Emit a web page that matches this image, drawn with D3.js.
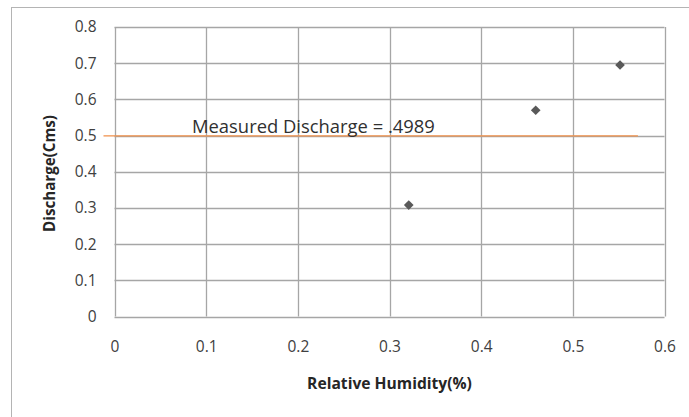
<!DOCTYPE html>
<html>
<head>
<meta charset="utf-8">
<script src="https://cdn.jsdelivr.net/npm/d3@7"></script>
<style>
  html, body { margin: 0; padding: 0; background: #fff; }
  svg { display: block; }
  text { font-family: "Open Sans", "Noto Sans", sans-serif; }
</style>
</head>
<body>
<svg id="chart" width="689" height="417"></svg>
<script>
// Observations: relative humidity vs. discharge
const humidity = [0.321, 0.4595, 0.5515];
const discharge = [0.308, 0.570, 0.695];

// Reference line for the measured discharge
const measuredDischarge = 0.4989;
const measuredSpan = [-0.012, 0.571];
const measuredLabel = "Measured Discharge = .4989";

const xTicks = [0, 0.1, 0.2, 0.3, 0.4, 0.5, 0.6];
const yTicks = [0, 0.1, 0.2, 0.3, 0.4, 0.5, 0.6, 0.7, 0.8];

const xTitle = "Relative Humidity(%)";
const yTitle = "Discharge(Cms)";

const svg = d3.select("#chart");

// chart frame
svg.append("rect")
  .attr("x", 11.5).attr("y", 7.5)
  .attr("width", 700).attr("height", 430)
  .attr("fill", "none").attr("stroke", "#b4b4b4").attr("stroke-width", 1);

const plot = { left: 114.5, right: 664.5, top: 27, bottom: 316.5 };

const x = d3.scaleLinear().domain([0, 0.6]).range([plot.left, plot.right]);
const y = d3.scaleLinear().domain([0, 0.8]).range([plot.bottom, plot.top]);

const gridColor = "#a6a6a6";
const tickFmt = d => d === 0 ? "0" : d3.format(".1f")(d);
const tickSize = "15.5px";

// fit a text element to a given width by scaling its font size
function fitWidth(sel, base, width) {
  sel.style("font-size", base + "px");
  const w = sel.node().getComputedTextLength();
  sel.style("font-size", (base * width / w) + "px");
}

// horizontal gridlines + y labels
const yAxis = d3.axisLeft(y).tickValues(yTicks).tickSize(0).tickPadding(18).tickFormat(tickFmt);
const gy = svg.append("g").attr("transform", `translate(${plot.left},0)`).call(yAxis);
gy.select(".domain").remove();
gy.attr("font-size", null).attr("font-family", null);
gy.selectAll("text").style("font-size", tickSize).attr("fill", "#404040");

svg.append("g").selectAll("line").data(yTicks).join("line")
  .attr("x1", plot.left).attr("x2", plot.right)
  .attr("y1", d => Math.round(y(d)) + 0.5).attr("y2", d => Math.round(y(d)) + 0.5)
  .attr("stroke", gridColor).attr("stroke-width", 1.3);

// vertical gridlines + x labels
svg.append("g").selectAll("line").data(xTicks).join("line")
  .attr("x1", d => Math.round(x(d)) + 0.5).attr("x2", d => Math.round(x(d)) + 0.5)
  .attr("y1", plot.top).attr("y2", plot.bottom)
  .attr("stroke", gridColor).attr("stroke-width", 1.3);

const xAxis = d3.axisBottom(x).tickValues(xTicks).tickSize(0).tickPadding(24).tickFormat(tickFmt);
const gx = svg.append("g").attr("transform", `translate(0,${plot.bottom})`).call(xAxis);
gx.select(".domain").remove();
gx.attr("font-size", null).attr("font-family", null);
gx.selectAll("text").style("font-size", tickSize).attr("fill", "#404040");

// measured discharge line
svg.append("line")
  .attr("x1", x(measuredSpan[0])).attr("x2", x(measuredSpan[1]))
  .attr("y1", y(measuredDischarge)).attr("y2", y(measuredDischarge))
  .attr("stroke", "#f0904a").attr("stroke-width", 1.2);

const label = svg.append("text")
  .attr("x", 192).attr("y", 133)
  .attr("fill", "#303030")
  .text(measuredLabel);
fitWidth(label, 15, 243);

// observation markers
const diamond = d3.symbol().type(d3.symbolDiamond2).size(60);
svg.append("g").selectAll("path").data(humidity.map((h, i) => [h, discharge[i]])).join("path")
  .attr("d", diamond)
  .attr("transform", d => `translate(${x(d[0])},${y(d[1])})`)
  .attr("fill", "#595959");

// axis titles
const xt = svg.append("text")
  .attr("x", 389.5).attr("y", 389)
  .attr("text-anchor", "middle").attr("font-weight", "bold")
  .attr("fill", "#262626").text(xTitle);
fitWidth(xt, 13, 165);

const yt = svg.append("text")
  .attr("transform", `translate(55,173.5) rotate(-90)`)
  .attr("text-anchor", "middle").attr("font-weight", "bold")
  .attr("fill", "#262626").text(yTitle);
fitWidth(yt, 13, 117);
</script>
</body>
</html>
